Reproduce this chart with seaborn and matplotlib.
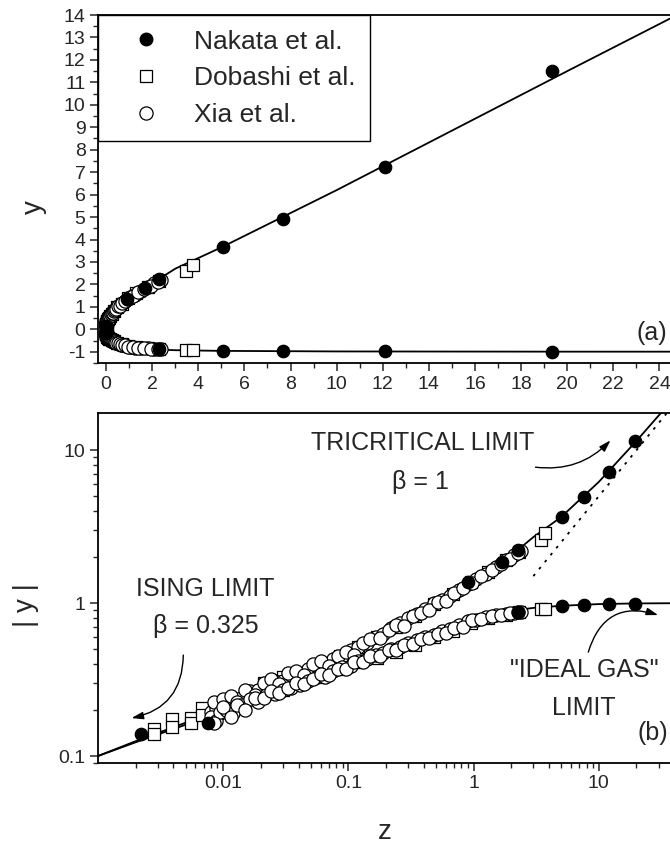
import matplotlib
matplotlib.use("Agg")
import matplotlib.pyplot as plt
import seaborn as sns
from matplotlib.lines import Line2D
from matplotlib.ticker import FixedLocator, FixedFormatter, MultipleLocator, LogLocator, NullFormatter

# ---------------- data ----------------
# theoretical crossover curve: |y| on the two branches vs z
CURVE_Z = [0.001, 0.002, 0.005, 0.01, 0.02, 0.05, 0.1, 0.2, 0.5, 1.0, 2.0, 3.0, 5.0, 10.0, 20.0, 40.0, 100.0]
CURVE_UP = [0.100, 0.125, 0.165, 0.212, 0.27, 0.37, 0.48, 0.65, 1.0, 1.40, 2.05, 2.70, 3.65, 6.2, 11.5, 22.0, 54.0]
CURVE_LOW = [0.100, 0.123, 0.160, 0.200, 0.25, 0.33, 0.41, 0.50, 0.65, 0.80, 0.89, 0.93, 0.96, 0.985, 0.995, 0.998, 1.0]

# tricritical asymptote (dotted)
DOT_Z = [3.0, 35.0]
DOT_Y = [1.5, 17.5]

# Nakata et al. (filled circles)
NAK_Z_UP = [0.0022, 0.91, 1.7, 2.28, 5.06, 7.67, 12.1, 19.35]
NAK_Y_UP = [0.139, 1.37, 1.85, 2.22, 3.66, 4.91, 7.25, 11.52]
NAK_Z_LOW = [0.0075, 2.28, 5.06, 7.67, 12.1, 19.35]
NAK_Y_LOW = [0.164, 0.87, 0.95, 0.97, 0.98, 0.99]

# Dobashi et al. (open squares)
DOB_Z = [0.0028, 0.0039, 0.0055, 0.0068, 0.0085, 0.011, 0.015, 0.021, 0.03, 0.042, 0.06, 0.085,
         0.12, 0.17, 0.24, 0.34, 0.48, 0.68, 0.95, 1.3, 1.8, 2.3, 3.45, 3.75]
DOB_UP = [0.15, 0.175, 0.177, 0.206, 0.20, 0.22, 0.24, 0.30, 0.33, 0.35, 0.39, 0.45,
          0.52, 0.60, 0.70, 0.82, 0.98, 1.15, 1.38, 1.6, 1.9, 2.15, 2.58, 2.86]
DOB_LOW = [0.14, 0.155, 0.164, 0.185, 0.19, 0.20, 0.225, 0.26, 0.27, 0.30, 0.33, 0.37,
           0.41, 0.44, 0.48, 0.53, 0.60, 0.66, 0.74, 0.80, 0.84, 0.87, 0.91, 0.92]

# Xia et al. (open circles), two runs
XIA_Z = [0.0080, 0.0088, 0.0095, 0.0105, 0.0120, 0.0140, 0.0165, 0.019, 0.022, 0.026, 0.030, 0.035,
         0.041, 0.048, 0.056, 0.065, 0.076, 0.089, 0.104, 0.12, 0.14, 0.165, 0.19, 0.22, 0.26, 0.30,
         0.35, 0.41, 0.48, 0.56, 0.65, 0.76, 0.90, 1.05, 1.25, 1.5, 1.8, 2.1, 2.4]
XIA_UP = [0.195, 0.205, 0.19, 0.225, 0.225, 0.24, 0.265, 0.27, 0.29, 0.31, 0.31, 0.34,
          0.345, 0.37, 0.385, 0.40, 0.43, 0.45, 0.49, 0.52, 0.55, 0.60, 0.63, 0.69, 0.74, 0.80,
          0.85, 0.92, 1.0, 1.05, 1.12, 1.22, 1.33, 1.44, 1.55, 1.72, 1.90, 2.05, 2.2]
XIA_LOW = [0.18, 0.17, 0.195, 0.20, 0.19, 0.215, 0.235, 0.225, 0.25, 0.255, 0.27, 0.28,
           0.29, 0.31, 0.33, 0.33, 0.36, 0.38, 0.39, 0.42, 0.43, 0.46, 0.47, 0.50, 0.52, 0.55,
           0.57, 0.60, 0.62, 0.66, 0.68, 0.72, 0.76, 0.78, 0.81, 0.83, 0.85, 0.86, 0.87]
XIA2_Z = [0.0085, 0.010, 0.0115, 0.013, 0.015, 0.018, 0.021, 0.024, 0.028, 0.033, 0.038, 0.044,
          0.052, 0.060, 0.070, 0.082, 0.095, 0.11, 0.13, 0.15, 0.18, 0.21, 0.24, 0.28, 0.33,
          0.38, 0.44, 0.52, 0.60, 0.70, 0.82, 0.97, 1.15, 1.4, 1.65, 1.95, 2.25]
XIA2_UP = [0.225, 0.235, 0.245, 0.225, 0.27, 0.25, 0.30, 0.32, 0.295, 0.35, 0.36, 0.34,
           0.40, 0.42, 0.39, 0.45, 0.48, 0.46, 0.55, 0.58, 0.59, 0.67, 0.72, 0.71, 0.82,
           0.86, 0.90, 1.02, 1.03, 1.16, 1.25, 1.35, 1.50, 1.65, 1.80, 1.95, 2.12]
XIA2_LOW = [0.165, 0.21, 0.18, 0.215, 0.20, 0.24, 0.24, 0.265, 0.26, 0.28, 0.30, 0.295,
            0.32, 0.345, 0.34, 0.37, 0.37, 0.41, 0.41, 0.45, 0.45, 0.49, 0.49, 0.53, 0.54,
            0.58, 0.59, 0.63, 0.64, 0.69, 0.70, 0.77, 0.79, 0.82, 0.84, 0.86, 0.87]

LEGEND_LABELS = ["Nakata et al.", "Dobashi et al.", "Xia et al."]

# ---------------- style ----------------
sns.set_style("ticks")
plt.rcParams["font.family"] = ["Liberation Sans", "DejaVu Sans"]
plt.rcParams["axes.linewidth"] = 1.3
plt.rcParams["axes.unicode_minus"] = False

W, H = 670, 844
fig = plt.figure(figsize=(W / 100, H / 100), dpi=100)

def px_axes(x0, y0, x1, y1):
    return fig.add_axes([x0 / W, 1 - y1 / H, (x1 - x0) / W, (y1 - y0) / H])

ax1 = px_axes(98, 15, 724, 363)
ax2 = px_axes(98, 413, 724, 763)

LW = 1.3
S_FILL, S_OPEN, S_SQ = 80, 90, 70
EW = 0.9

xia_z = XIA_Z + XIA2_Z
xia_up = XIA_UP + XIA2_UP
xia_low = XIA_LOW + XIA2_LOW

# ---------------- top panel (linear) ----------------
top_z = CURVE_Z[::-1] + [0.0] + CURVE_Z
top_y = [-v for v in CURVE_LOW[::-1]] + [0.0] + CURVE_UP
sns.lineplot(x=top_z, y=top_y, sort=False, estimator=None, color="black", lw=LW, ax=ax1, zorder=2)

sns.scatterplot(x=DOB_Z + DOB_Z, y=DOB_UP + [-v for v in DOB_LOW], marker="s", s=S_SQ,
                facecolor="white", edgecolor="black", linewidth=EW, ax=ax1, zorder=3)
sns.scatterplot(x=xia_z + xia_z, y=xia_up + [-v for v in xia_low], marker="o", s=S_OPEN,
                facecolor="white", edgecolor="black", linewidth=EW, ax=ax1, zorder=4)
sns.scatterplot(x=NAK_Z_UP + NAK_Z_LOW, y=NAK_Y_UP + [-v for v in NAK_Y_LOW], marker="o", s=S_FILL,
                color="black", edgecolor="black", linewidth=EW, ax=ax1, zorder=5)

ax1.set_xlim(-0.35, 26.8)
ax1.set_ylim(-1.5, 14)
ax1.xaxis.set_major_locator(FixedLocator(list(range(0, 25, 2))))
ax1.xaxis.set_minor_locator(FixedLocator(list(range(1, 27, 2))))
ax1.yaxis.set_major_locator(MultipleLocator(1))
ax1.yaxis.set_minor_locator(MultipleLocator(0.5))
ax1.set_xlabel("")
ax1.set_ylabel("")

# legend
handles = [
    Line2D([], [], ls="none", marker="o", ms=9, mfc="black", mec="black"),
    Line2D([], [], ls="none", marker="s", ms=8.5, mfc="white", mec="black", mew=EW),
    Line2D([], [], ls="none", marker="o", ms=9.5, mfc="white", mec="black", mew=EW),
]
leg = ax1.legend(handles, LEGEND_LABELS, loc="upper left", bbox_to_anchor=(0, 1),
                 borderaxespad=0, fancybox=False, frameon=True, edgecolor="black",
                 framealpha=1, fontsize=19, handlelength=2.5, handletextpad=0.6,
                 borderpad=0.55, labelspacing=0.48, numpoints=1)
leg.get_frame().set_linewidth(1.0)

ax1.text(23.0, -0.15, "(a)", fontsize=18, ha="left", va="center")

# ---------------- bottom panel (log-log) ----------------
sns.lineplot(x=CURVE_Z, y=CURVE_UP, sort=False, estimator=None, color="black", lw=LW, ax=ax2, zorder=2)
sns.lineplot(x=CURVE_Z, y=CURVE_LOW, sort=False, estimator=None, color="black", lw=LW, ax=ax2, zorder=2)
ax2.plot(DOT_Z, DOT_Y, ls=(0, (1.5, 3.5)), color="black", lw=1.3, zorder=2)

sns.scatterplot(x=DOB_Z + DOB_Z, y=DOB_UP + DOB_LOW, marker="s", s=S_SQ,
                facecolor="white", edgecolor="black", linewidth=EW, ax=ax2, zorder=3)
sns.scatterplot(x=xia_z + xia_z, y=xia_up + xia_low, marker="o", s=S_OPEN,
                facecolor="white", edgecolor="black", linewidth=EW, ax=ax2, zorder=4)
sns.scatterplot(x=NAK_Z_UP + NAK_Z_LOW, y=NAK_Y_UP + NAK_Y_LOW, marker="o", s=S_FILL,
                color="black", edgecolor="black", linewidth=EW, ax=ax2, zorder=5)

ax2.set_xscale("log")
ax2.set_yscale("log")
ax2.set_xlim(0.001, 100)
ax2.set_ylim(0.090, 17.5)
ax2.xaxis.set_major_locator(FixedLocator([0.01, 0.1, 1, 10]))
ax2.xaxis.set_major_formatter(FixedFormatter(["0.01", "0.1", "1", "10"]))
ax2.xaxis.set_minor_locator(LogLocator(base=10, subs=[2, 3, 4, 5, 6, 7, 8, 9], numticks=20))
ax2.xaxis.set_minor_formatter(NullFormatter())
ax2.yaxis.set_major_locator(FixedLocator([0.1, 1, 10]))
ax2.yaxis.set_major_formatter(FixedFormatter(["0.1", "1", "10"]))
ax2.yaxis.set_minor_locator(LogLocator(base=10, subs=[2, 3, 4, 5, 6, 7, 8, 9], numticks=20))
ax2.yaxis.set_minor_formatter(NullFormatter())
ax2.set_xlabel("")
ax2.set_ylabel("")

TFS = 18
ax2.text(0.393, 11.1, "TRICRITICAL LIMIT", fontsize=TFS, ha="center", va="center")
ax2.text(0.378, 6.18, "β = 1", fontsize=TFS, ha="center", va="center")
ax2.text(0.0072, 1.235, "ISING LIMIT", fontsize=TFS, ha="center", va="center")
ax2.text(0.0072, 0.707, "β = 0.325", fontsize=TFS, ha="center", va="center")
ax2.text(7.66, 0.365, '"IDEAL GAS"', fontsize=TFS, ha="center", va="center")
ax2.text(7.6, 0.206, "LIMIT", fontsize=TFS, ha="center", va="center")
ax2.text(20.5, 0.141, "(b)", fontsize=TFS, ha="left", va="center")

arrow = dict(arrowstyle="-|>,head_length=0.7,head_width=0.22", color="black", lw=1.0,
             shrinkA=0, shrinkB=0)
ax2.annotate("", xy=(12.4, 11.6), xytext=(3.12, 7.74),
             arrowprops=dict(arrow, connectionstyle="arc3,rad=0.25"))
ax2.annotate("", xy=(29.8, 0.835), xytext=(8.24, 0.478),
             arrowprops=dict(arrow, connectionstyle="arc3,rad=-0.5"))
ax2.annotate("", xy=(0.00185, 0.177), xytext=(0.0048, 0.457),
             arrowprops=dict(arrow, connectionstyle="arc3,rad=-0.4"))

# ---------------- ticks / spines ----------------
for ax in (ax1, ax2):
    ax.tick_params(which="major", direction="out", length=6, width=1.1, labelsize=14,
                   top=False, right=False, pad=3)
    ax.tick_params(which="minor", direction="out", length=3.5, width=1.0, top=False, right=False)
    for sp in ax.spines.values():
        sp.set_visible(True)
        sp.set_color("black")
        sp.set_linewidth(1.3)
    ax.set_facecolor("white")

# axis titles
fig.text(34 / W, 1 - 207 / H, "y", fontsize=20, rotation=90, ha="center", va="center")
fig.text(26 / W, 1 - 605 / H, "| y |", fontsize=20, rotation=90, ha="center", va="center")
fig.text(385 / W, 1 - 832 / H, "z", fontsize=20, ha="center", va="center")

fig.savefig("out.png", dpi=100, facecolor="white")
